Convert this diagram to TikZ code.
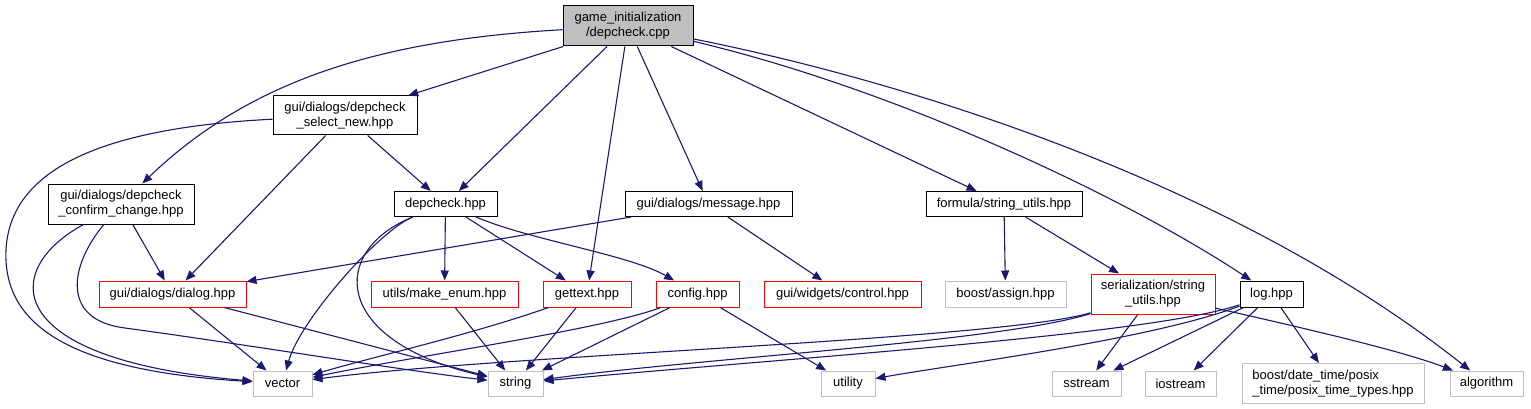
\documentclass[tikz,border=0pt]{standalone}
\usepackage{fontspec}
\setmainfont{Liberation Sans}
\definecolor{edgeblue}{RGB}{25, 25, 112}
\definecolor{nodegray}{RGB}{191, 191, 191}
\definecolor{hdrred}{RGB}{255, 0, 0}
\usetikzlibrary{arrows.meta, positioning}
\tikzset{
	file/.style={rectangle, draw=black, line width=1pt, align=center, inner sep=1pt, minimum height=25pt, font=\fontsize{13}{15}\selectfont},
	mainfile/.style={file, fill=nodegray},
	redfile/.style={file, draw=hdrred},
	sysfile/.style={file, draw=nodegray},
	dep/.style={-{Triangle[length=10pt, width=8pt]}, line width=1.1pt, draw=edgeblue},
}

\begin{document}
\begin{tikzpicture}[x=1pt, y=-1pt]
		\useasboundingbox (0,0) rectangle (1531,409);
		\node[mainfile, minimum width=130pt, minimum height=40pt] (main) at (628,26) {game\_initialization\\/depcheck.cpp};
		\node[file, minimum width=144pt, minimum height=39pt] (select) at (345,115.5) {gui/dialogs/depcheck\\\_select\_new.hpp};
		% second row
		\node[file, minimum width=146pt, minimum height=40pt] (confirm) at (121,204) {gui/dialogs/depcheck\\\_confirm\_change.hpp};
		\node[file, minimum width=103pt, right=199pt of confirm] (depcheck) {depcheck.hpp};
		\node[file, minimum width=167pt, right=127pt of depcheck] (message) {gui/dialogs/message.hpp};
		\node[file, minimum width=156pt, right=133pt of message] (formula) {formula/string\_utils.hpp};
		% third row
		\node[redfile, minimum width=147pt, minimum height=26pt] (dialog) at (172.5,294) {gui/dialogs/dialog.hpp};
		\node[redfile, minimum width=147pt, minimum height=26pt, right=124pt of dialog] (makeenum) {utils/make\_enum.hpp};
		\node[redfile, minimum width=88pt, minimum height=26pt, right=24pt of makeenum] (gettext) {gettext.hpp};
		\node[redfile, minimum width=83pt, minimum height=26pt, right=24pt of gettext] (config) {config.hpp};
		\node[redfile, minimum width=157pt, minimum height=26pt, right=24pt of config] (control) {gui/widgets/control.hpp};
		\node[sysfile, minimum width=121pt, minimum height=26pt, right=23pt of control] (assign) {boost/assign.hpp};
		\node[redfile, minimum width=124pt, minimum height=40pt, right=24pt of assign] (serial) {serialization/string\\\_utils.hpp};
		\node[file, minimum width=63pt, minimum height=26pt, right=24pt of serial] (log) {log.hpp};
		% system headers
		\node[sysfile, minimum width=59pt] (vector) at (282.5,383.5) {vector};
		\node[sysfile, minimum width=55pt, right=175pt of vector] (string) {string};
		\node[sysfile, minimum width=54pt, right=277pt of string] (utility) {utility};
		\node[sysfile, minimum width=69pt, right=176pt of utility] (sstream) {sstream};
		\node[sysfile, minimum width=71pt, right=23pt of sstream] (iostream) {iostream};
		\node[sysfile, minimum width=182pt, minimum height=40pt, align=left, right=25pt of iostream] (posix) {boost/date\_time/posix\\\_time/posix\_time\_types.hpp};
		\node[sysfile, minimum width=73pt, right=25pt of posix] (algorithm) {algorithm};
		% straight includes
		\foreach \a/\b in {main/select, main/depcheck, main/gettext, main/message, main/formula, select/dialog, select/depcheck, confirm/dialog, depcheck/makeenum, depcheck/gettext, message/dialog, message/control, formula/assign, formula/serial, dialog/vector, dialog/string, makeenum/string, gettext/string, config/string, config/utility, serial/sstream, log/sstream, log/iostream, log/posix}{\draw[dep] (\a) -- (\b);}
		% curved includes
		\draw[dep] (main) .. controls (380,40) and (250,80) .. (confirm);
		\draw[dep] (main) .. controls (900,90) and (1130,200) .. (log);
		\draw[dep] (main) .. controls (900,80) and (1230,180) .. (algorithm);
		\draw[dep] (select) .. controls (100,128) and (10,170) .. (6,250) .. controls (3,320) and (60,370) .. (vector);
		\draw[dep] (confirm) .. controls (0,270) and (0,360) .. (vector);
		\draw[dep] (confirm) .. controls (70,265) and (60,320) .. (125,328) .. controls (250,345) and (400,370) .. (string);
		\draw[dep] (depcheck) .. controls (380,230) and (300,320) .. (vector);
		\draw[dep] (depcheck) .. controls (330,250) and (330,340) .. (string);
		\draw[dep] (depcheck) .. controls (530,240) and (630,255) .. (config);
		\draw[dep] (gettext) .. controls (470,335) and (380,355) .. (vector);
		\draw[dep] (config) .. controls (600,330) and (420,355) .. (vector);
		\draw[dep] (serial) .. controls (1000,340) and (500,355) .. (vector);
		\draw[dep] (serial) .. controls (1000,342) and (700,358) .. (string);
		\draw[dep] (serial) .. controls (1290,325) and (1400,350) .. (algorithm);
		\draw[dep] (log) .. controls (1150,335) and (800,357) .. (string);
		\draw[dep] (log) .. controls (1150,340) and (950,365) .. (utility);
	\end{tikzpicture}
\end{document}
